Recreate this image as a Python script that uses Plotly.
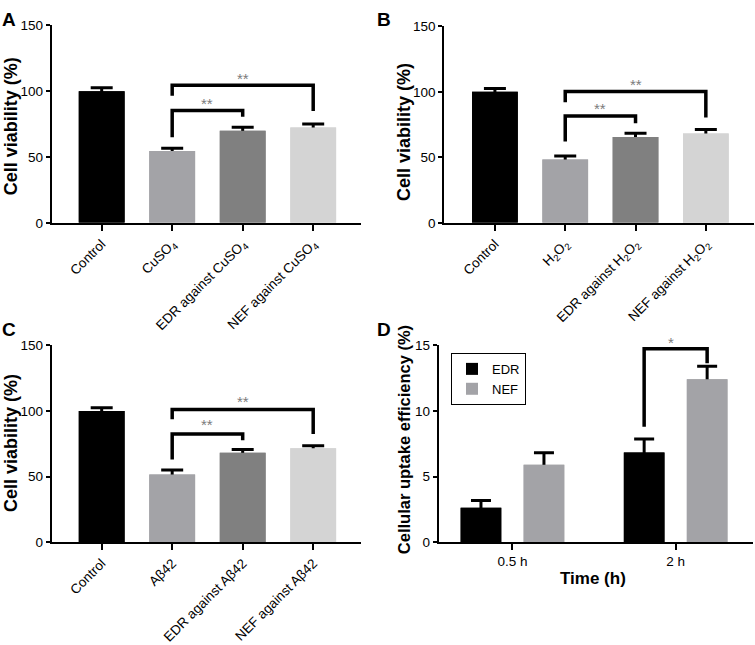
import plotly.graph_objects as go

FONT = "Liberation Sans, Arial, sans-serif"

# ---------------- data ----------------
labels_A = ["Control", "CuSO<sub>4</sub>", "EDR against CuSO<sub>4</sub>", "NEF against CuSO<sub>4</sub>"]
values_A = [100, 54.5, 70.0, 72.5]
errors_A = [2.6, 2.2, 2.7, 2.6]

labels_B = ["Control", "H<sub>2</sub>O<sub>2</sub>", "EDR against H<sub>2</sub>O<sub>2</sub>", "NEF against H<sub>2</sub>O<sub>2</sub>"]
values_B = [100, 48.3, 65.6, 68.2]
errors_B = [2.6, 2.8, 2.7, 3.0]

labels_C = ["Control", "Aβ42", "EDR against Aβ42", "NEF against Aβ42"]
values_C = [100, 51.7, 68.2, 71.7]
errors_C = [2.6, 3.3, 2.5, 1.9]

bar_colors = ["#000000", "#a3a3a7", "#808080", "#d4d4d4"]

# significance brackets: (x positions, y positions, star label, star x, star y)
brackets_A = [([1, 1, 3, 3], [96.5, 104.6, 104.6, 85.0], "**", 2, 110.0),
              ([1, 1, 2, 2], [65.0, 85.4, 85.4, 80.5], "**", 1.5, 91.0)]
brackets_B = [([1, 1, 3, 3], [92.0, 100.2, 100.2, 80.5], "**", 2, 105.8),
              ([1, 1, 2, 2], [62.0, 81.5, 81.5, 76.0], "**", 1.5, 87.0)]
brackets_C = [([1, 1, 3, 3], [93.8, 101.2, 101.2, 82.5], "**", 2, 107.0),
              ([1, 1, 2, 2], [63.0, 82.5, 82.5, 77.8], "**", 1.5, 90.0)]

time_labels = ["0.5 h", "2 h"]
edr_values = [2.63, 6.84]
edr_errors = [0.55, 1.02]
nef_values = [5.91, 12.42]
nef_errors = [0.91, 1.00]
series_D = [("EDR", edr_values, edr_errors, "#000000"), ("NEF", nef_values, nef_errors, "#a3a3a7")]
bracket_D = ([0.807, 0.807, 1.193, 1.193], [8.8, 14.75, 14.75, 13.65], "*", 1.0, 15.25)

# ---------------- figure ----------------
W, H = 755, 645
STAR_FONT = dict(family=FONT, size=15, color="#7c7c7c")
fig = go.Figure()


def xd(px):
    return px / W


def yd(py):
    return 1 - py / H


panels = [
    ("x", "y", labels_A, values_A, errors_A, brackets_A),
    ("x2", "y2", labels_B, values_B, errors_B, brackets_B),
    ("x3", "y3", labels_C, values_C, errors_C, brackets_C),
]

for xa, ya, labels, vals, errs, brs in panels:
    idx = list(range(len(labels)))
    # bars with error bars (lower half hidden by the second copy of the bars)
    fig.add_trace(go.Bar(x=idx, y=vals, width=0.65, marker_color=bar_colors, marker_line_width=0,
                         error_y=dict(type="data", array=errs, symmetric=True, color="#000000",
                                      thickness=3, width=11),
                         xaxis=xa, yaxis=ya, showlegend=False, hoverinfo="skip"))
    fig.add_trace(go.Bar(x=idx, y=vals, width=0.65, marker_color=bar_colors, marker_line_width=0,
                         xaxis=xa, yaxis=ya, showlegend=False, hoverinfo="skip"))
    for bx, by, star, sx, sy in brs:
        fig.add_trace(go.Scatter(x=bx, y=by, mode="lines", line=dict(color="#000000", width=3.5),
                                 xaxis=xa, yaxis=ya, showlegend=False, hoverinfo="skip", cliponaxis=False))
        fig.add_annotation(x=sx, y=sy, xref=xa, yref=ya, text=star, showarrow=False, font=STAR_FONT)

# panel D
offsets_D = [-0.3175, 0.0685]
for (name, vals, errs, col), off in zip(series_D, offsets_D):
    idx = list(range(len(time_labels)))
    fig.add_trace(go.Bar(x=idx, y=vals, width=0.249, offset=off, marker_color=col, marker_line_width=0,
                         name=name,
                         error_y=dict(type="data", array=errs, symmetric=True, color="#000000",
                                      thickness=3, width=10),
                         xaxis="x4", yaxis="y4", showlegend=True, hoverinfo="skip"))
    fig.add_trace(go.Bar(x=idx, y=vals, width=0.249, offset=off, marker_color=col, marker_line_width=0,
                         xaxis="x4", yaxis="y4", showlegend=False, hoverinfo="skip"))
bx, by, star, sx, sy = bracket_D
fig.add_trace(go.Scatter(x=bx, y=by, mode="lines", line=dict(color="#000000", width=3.5),
                         xaxis="x4", yaxis="y4", showlegend=False, hoverinfo="skip", cliponaxis=False))

D_XRANGE = [-0.452, 1.474]
D_YRANGE = [0, 15]
D_XDOM = [xd(438.7), xd(753)]
D_YDOM = [yd(552.3), yd(349.3)]
# star lies above the top of the y range -> place it in paper coordinates
star_px = D_XDOM[0] + (sx - D_XRANGE[0]) / (D_XRANGE[1] - D_XRANGE[0]) * (D_XDOM[1] - D_XDOM[0])
star_py = D_YDOM[0] + (sy - D_YRANGE[0]) / (D_YRANGE[1] - D_YRANGE[0]) * (D_YDOM[1] - D_YDOM[0])
fig.add_annotation(x=star_px, y=star_py, xref="paper", yref="paper", text=star, showarrow=False,
                   font=STAR_FONT)

axis_common = dict(showline=True, linecolor="#000000", linewidth=2, showgrid=False, zeroline=False,
                   ticks="outside", tickcolor="#000000", tickwidth=2,
                   tickfont=dict(family=FONT, size=13.5, color="#000000"))


def xaxis(dom, rng, labels, anchor, angle):
    return dict(axis_common, domain=dom, range=rng, anchor=anchor, tickmode="array",
                tickvals=list(range(len(labels))), ticktext=labels, tickangle=angle, ticklen=6)


def yaxis(dom, rng, tv, anchor):
    return dict(axis_common, domain=dom, range=rng, anchor=anchor, tickmode="array",
                tickvals=tv, ticklen=4)


fig.update_layout(
    width=W, height=H, margin=dict(l=0, r=0, t=0, b=0),
    paper_bgcolor="#ffffff", plot_bgcolor="#ffffff", barmode="overlay",
    font=dict(family=FONT, color="#000000"),
    xaxis=xaxis([xd(51.7), xd(361)], [-0.709, 3.678], labels_A, "y", -45),
    yaxis=yaxis([yd(222.7), yd(19)], [0, 150], [0, 50, 100, 150], "x"),
    xaxis2=xaxis([xd(444.3), xd(754)], [-0.72, 3.685], labels_B, "y2", -45),
    yaxis2=yaxis([yd(222.7), yd(20)], [0, 150], [0, 50, 100, 150], "x2"),
    xaxis3=xaxis([xd(51.7), xd(361)], [-0.709, 3.678], labels_C, "y3", -45),
    yaxis3=yaxis([yd(552.3), yd(349.3)], [0, 150], [0, 50, 100, 150], "x3"),
    xaxis4=xaxis(D_XDOM, D_XRANGE, time_labels, "y4", 0),
    yaxis4=yaxis(D_YDOM, D_YRANGE, [0, 5, 10, 15], "x4"),
    legend=dict(x=xd(451), y=yd(357), xanchor="left", yanchor="top", bgcolor="#ffffff",
                bordercolor="#000000", borderwidth=1, font=dict(family=FONT, size=13),
                itemwidth=30, tracegroupgap=0),
)

# panel letters and axis titles
for letter, px, py in [("A", 0, 0), ("B", 375, 0), ("C", 0, 320), ("D", 375, 320)]:
    fig.add_annotation(x=xd(px), y=yd(py), xref="paper", yref="paper", xanchor="left", yanchor="top",
                       text=f"<b>{letter}</b>", showarrow=False,
                       font=dict(family=FONT, size=19, color="#000000"))

for text, px, py, size in [("Cell viability (%)", 11, 123, 18),
                            ("Cell viability (%)", 404, 129, 18),
                            ("Cell viability (%)", 11, 450, 18),
                            ("Cellular uptake efficiency (%)", 404, 447, 16.5)]:
    fig.add_annotation(x=xd(px), y=yd(py), xref="paper", yref="paper", xanchor="center", yanchor="middle",
                       text=f"<b>{text}</b>", textangle=-90, showarrow=False,
                       font=dict(family=FONT, size=size, color="#000000"))

fig.add_annotation(x=xd(593), y=yd(590), xref="paper", yref="paper", xanchor="center", yanchor="middle",
                   text="<b>Time (h)</b>", showarrow=False, font=dict(family=FONT, size=17, color="#000000"))

fig.write_html("out.html", config={"displayModeBar": False},
               post_script="document.body.style.margin='0';document.body.style.padding='0';")
